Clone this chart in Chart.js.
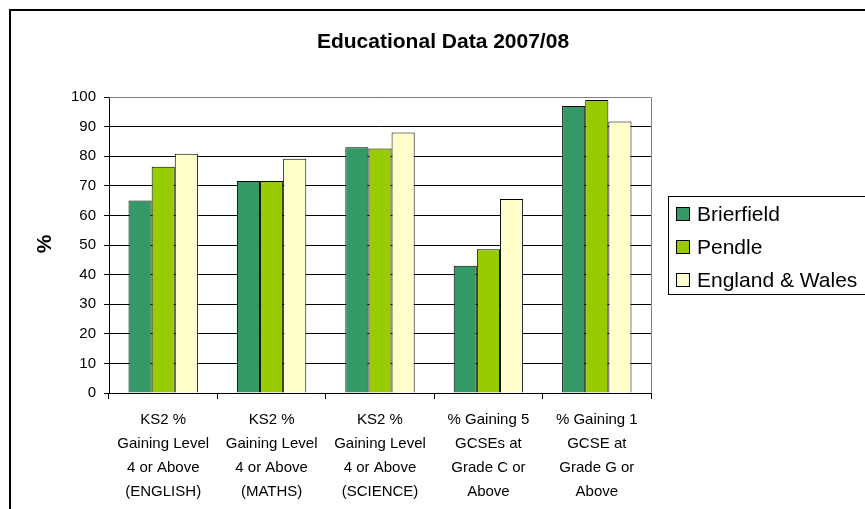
<!DOCTYPE html>
<html>
<head>
<meta charset="utf-8">
<script src="https://cdn.jsdelivr.net/npm/chart.js@4"></script>
<style>
  html, body { margin: 0; padding: 0; background: #fff; }
  canvas { display: block; }
</style>
</head>
<body>
<canvas id="myChart" width="865" height="509"></canvas>
<script>

// data

var categories = [
  ["KS2 %", "Gaining Level", "4 or Above", "(ENGLISH)"],
  ["KS2 %", "Gaining Level", "4 or Above", "(MATHS)"],
  ["KS2 %", "Gaining Level", "4 or Above", "(SCIENCE)"],
  ["% Gaining 5", "GCSEs at", "Grade C or", "Above"],
  ["% Gaining 1", "GCSE at", "Grade G or", "Above"]
];

var brierfield = [65, 71.6, 83, 43, 97];
var pendle = [76.4, 71.6, 82.6, 48.6, 99];
var englandWales = [80.8, 79.1, 88, 65.5, 91.7];

var seriesNames = ["Brierfield", "Pendle", "England & Wales"];
var seriesColors = ["#339966", "#99CC00", "#FFFFCC"];

var yTicks = [0, 10, 20, 30, 40, 50, 60, 70, 80, 90, 100];

var FONT = "'Liberation Sans', Arial, sans-serif";


// extras drawn on the canvas: frame, title, "%" label, plot border, legend

var extras = {
  id: "extras",
  afterDraw: function(chart) {
    var ctx = chart.ctx;
    var a = chart.chartArea;
    ctx.save();

    // outer frame
    ctx.strokeStyle = "#000";
    ctx.lineWidth = 2;
    ctx.beginPath();
    ctx.moveTo(10, 520);
    ctx.lineTo(10, 10);
    ctx.lineTo(880, 10);
    ctx.stroke();

    // plot area border (top and right)
    ctx.strokeStyle = "#808080";
    ctx.lineWidth = 1;
    ctx.beginPath();
    ctx.moveTo(a.left, a.top + 0.5);
    ctx.lineTo(a.right + 0.5, a.top + 0.5);
    ctx.lineTo(a.right + 0.5, a.bottom);
    ctx.stroke();

    // title
    ctx.fillStyle = "#000";
    ctx.font = "bold 21px " + FONT;
    ctx.textAlign = "center";
    ctx.textBaseline = "middle";
    ctx.fillText("Educational Data 2007/08", 443, 42);

    // y axis title
    ctx.save();
    ctx.translate(45, 244);
    ctx.rotate(-Math.PI / 2);
    ctx.fillText("%", 0, 0);
    ctx.restore();

    // legend
    var lx = 668, ly = 196, lw = 210, lh = 98;
    ctx.strokeStyle = "#000";
    ctx.lineWidth = 1;
    ctx.strokeRect(lx + 0.5, ly + 0.5, lw, lh);
    ctx.font = "21px " + FONT;
    ctx.textAlign = "left";
    chart.data.datasets.forEach(function(ds, i) {
      var cy = 214 + i * 33;
      ctx.fillStyle = ds.backgroundColor;
      ctx.fillRect(676, cy - 7, 13, 13);
      ctx.strokeStyle = "#000";
      ctx.strokeRect(676.5, cy - 6.5, 13, 13);
      ctx.fillStyle = "#000";
      ctx.fillText(ds.label, 697, cy + 1);
    });

    ctx.restore();
  }
};


new Chart("myChart", {

  type: "bar",
  data: {
    labels: categories,
    datasets: [
      { label: seriesNames[0], data: brierfield, backgroundColor: seriesColors[0] },
      { label: seriesNames[1], data: pendle, backgroundColor: seriesColors[1] },
      { label: seriesNames[2], data: englandWales, backgroundColor: seriesColors[2] }
    ].map(function(ds) {
      ds.borderColor = "#000";
      ds.borderWidth = 1;
      ds.categoryPercentage = 0.64;
      ds.barPercentage = 1.0;
      return ds;
    })
  },
  options: {
    responsive: false,
    animation: false,
    devicePixelRatio: 1,
    layout: { padding: { top: 97, left: 0, right: 214, bottom: 0 } },
    plugins: {
      legend: { display: false },
      title: { display: false },
      tooltip: { enabled: false }
    },
    scales: {
      y: {
        min: 0,
        max: 100,
        afterFit: function(scale) { scale.width = 109; },
        afterBuildTicks: function(scale) {
          scale.ticks = yTicks.map(function(v) { return { value: v }; });
        },
        ticks: {
          color: "#000",
          font: { family: FONT, size: 15 },
          padding: 8
        },
        grid: { color: "#000", tickLength: 5 },
        border: { color: "#000" }
      },
      x: {
        afterFit: function(scale) { scale.height = 116; },
        ticks: {
          color: "#000",
          font: { family: FONT, size: 15, lineHeight: 1.6 },
          maxRotation: 0,
          autoSkip: false,
          padding: 9
        },
        grid: { offset: true, drawOnChartArea: false, color: "#000", tickLength: 6 },
        border: { color: "#000" }
      }
    }
  },
  plugins: [extras]

});

</script>
</body>
</html>
